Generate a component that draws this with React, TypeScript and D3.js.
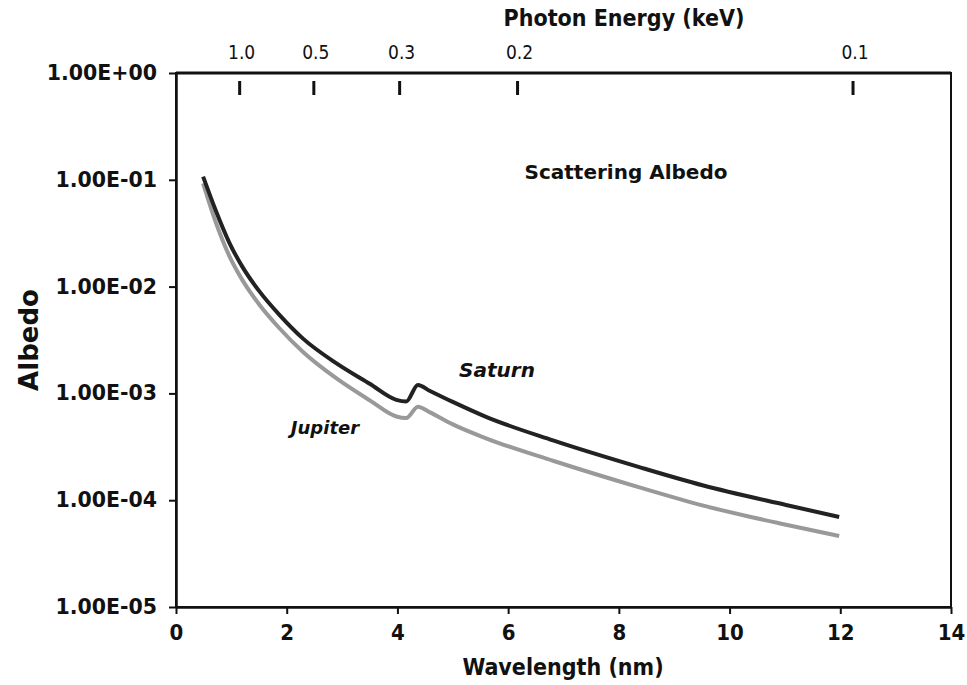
import React, { useEffect, useRef } from 'react';
import * as d3 from 'd3';

// wavelength (nm) / albedo
const saturnX = [0.49, 0.72, 0.96, 1.2, 1.5, 1.86, 2.3, 2.9, 3.5, 3.98, 4.16, 4.37, 4.58, 5.0, 5.6, 6.81, 8.37, 9.51, 11.02, 11.98];
const saturnY = [0.107, 0.0513, 0.026, 0.0153, 0.00912, 0.0055, 0.00324, 0.00191, 0.00123, 0.000871, 0.000841, 0.0012, 0.00106, 0.000832, 0.000603, 0.000363, 0.000204, 0.000138, 0.0000902, 0.0000697];

const jupiterX = [0.49, 0.72, 0.96, 1.2, 1.5, 1.86, 2.3, 2.9, 3.5, 3.98, 4.16, 4.37, 4.58, 5.0, 5.6, 6.81, 8.37, 9.51, 11.02, 11.98];
const jupiterY = [0.0927, 0.0398, 0.0195, 0.0115, 0.00684, 0.00412, 0.00243, 0.00138, 0.000861, 0.000608, 0.000587, 0.00075, 0.000668, 0.000513, 0.00038, 0.000234, 0.000132, 0.0000895, 0.0000589, 0.0000462];

const xTicks = [0, 2, 4, 6, 8, 10, 12, 14];
const yTicks = [1, 1e-1, 1e-2, 1e-3, 1e-4, 1e-5];
const yTickLabels = ['1.00E+00', '1.00E-01', '1.00E-02', '1.00E-03', '1.00E-04', '1.00E-05'];

// photon energy ticks along the top (keV), placed at wavelength positions
const energyLabels = ['1.0', '0.5', '0.3', '0.2', '0.1'];
const energyPos = [1.15, 2.49, 4.04, 6.17, 12.23];

const App = () => {
    const svgRef = useRef<SVGSVGElement>(null);

    useEffect(() => {
        const width = 967;
        const height = 685;
        const left = 176, right = 951, top = 73, bottom = 607;
        const svg = d3.select(svgRef.current)
            .attr('width', width)
            .attr('height', height);

        svg.selectAll('*').remove();

        const x = d3.scaleLinear().domain([0, 14]).range([left, right]);
        const y = d3.scaleLog().domain([1e-5, 1]).range([bottom, top]);

        const boldFont = "'DejaVu Sans', Verdana, sans-serif";
        const condFont = "'DejaVu Sans Condensed', 'DejaVu Sans', sans-serif";

        // frame
        svg.append('rect')
            .attr('x', left).attr('y', top)
            .attr('width', right - left).attr('height', bottom - top)
            .attr('fill', 'none')
            .attr('stroke', '#111')
            .attr('stroke-width', 2);
        svg.append('line')
            .attr('x1', left).attr('x2', right)
            .attr('y1', top).attr('y2', top)
            .attr('stroke', '#111').attr('stroke-width', 3);

        // bottom axis
        const xAxis = svg.append('g')
            .attr('transform', `translate(0, ${bottom})`)
            .call(d3.axisBottom(x).tickValues(xTicks).tickSize(7).tickSizeOuter(0).tickPadding(10).tickFormat(d3.format('d')));
        xAxis.select('.domain').attr('stroke', '#111').attr('stroke-width', 2.5);
        xAxis.selectAll('.tick line').attr('stroke', '#111').attr('stroke-width', 2);
        xAxis.selectAll('.tick text')
            .attr('font-family', condFont)
            .attr('font-weight', 'bold')
            .attr('font-size', 22)
            .attr('fill', '#111');

        // left axis
        const yAxis = svg.append('g')
            .attr('transform', `translate(${left}, 0)`)
            .call(d3.axisLeft(y).tickValues(yTicks).tickSize(7).tickSizeOuter(0).tickPadding(12)
                .tickFormat((d, i) => yTickLabels[i]));
        yAxis.select('.domain').attr('stroke', '#111').attr('stroke-width', 2.5);
        yAxis.selectAll('.tick line').attr('stroke', '#111').attr('stroke-width', 2);
        yAxis.selectAll('.tick text')
            .attr('font-family', boldFont)
            .attr('font-weight', 'bold')
            .attr('font-size', 20.5)
            .attr('fill', '#111');

        // photon energy ticks
        svg.selectAll('.etick')
            .data(energyPos)
            .join('line')
            .attr('class', 'etick')
            .attr('x1', d => x(d)).attr('x2', d => x(d))
            .attr('y1', top + 8).attr('y2', top + 22)
            .attr('stroke', '#111')
            .attr('stroke-width', 3);
        svg.selectAll('.elabel')
            .data(energyPos)
            .join('text')
            .attr('class', 'elabel')
            .attr('x', d => x(d) + 2)
            .attr('y', 59)
            .attr('text-anchor', 'middle')
            .attr('font-family', condFont)
            .attr('font-size', 19)
            .attr('fill', '#111')
            .text((d, i) => energyLabels[i]);

        // curves
        const line = d3.line<[number, number]>()
            .x(d => x(d[0]))
            .y(d => y(d[1]))
            .curve(d3.curveMonotoneX);

        svg.append('path')
            .datum(jupiterX.map((v, i) => [v, jupiterY[i]] as [number, number]))
            .attr('d', line)
            .attr('fill', 'none')
            .attr('stroke', '#999')
            .attr('stroke-width', 4);

        svg.append('path')
            .datum(saturnX.map((v, i) => [v, saturnY[i]] as [number, number]))
            .attr('d', line)
            .attr('fill', 'none')
            .attr('stroke', '#222')
            .attr('stroke-width', 4);

        // labels
        const label = (tx: number, ty: number, text: string, size: number, opts: any = {}) =>
            svg.append('text')
                .attr('x', tx).attr('y', ty)
                .attr('text-anchor', 'middle')
                .attr('font-family', opts.family || boldFont)
                .attr('font-weight', 'bold')
                .attr('font-style', opts.italic ? 'italic' : 'normal')
                .attr('font-size', size)
                .attr('fill', '#111')
                .attr('transform', opts.rotate ? `rotate(-90, ${tx}, ${ty})` : null)
                .text(text);

        label(624, 26, 'Photon Energy (keV)', 23, { family: condFont });
        label(563, 675, 'Wavelength (nm)', 23, { family: condFont });
        label(38, 340, 'Albedo', 26, { rotate: true });
        label(626, 179, 'Scattering Albedo', 20);
        label(497, 377, 'Saturn', 20, { italic: true });
        label(325, 434, 'Jupiter', 18, { italic: true });
    }, []);

    return <svg ref={svgRef} style={{ position: 'absolute', left: 0, top: 0, background: '#fff' }}></svg>;
};

export default App;
